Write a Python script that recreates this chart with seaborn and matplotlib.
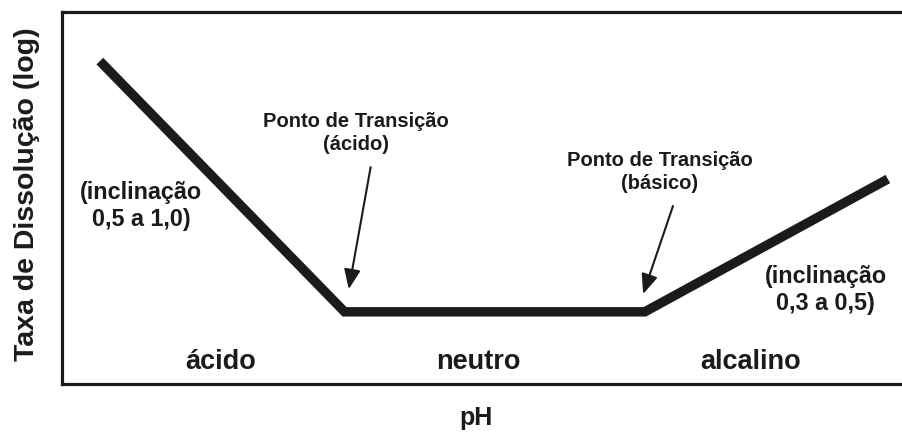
import matplotlib
matplotlib.use("Agg")
import matplotlib.pyplot as plt
import seaborn as sns
import pandas as pd

# ---- data (relative positions on the schematic pH / log-rate axes) ----
ph_pos = [4.5, 33.6, 69.3, 98.2]
log_rate = [86.8, 19.4, 19.4, 55.1]

region_labels = ["ácido", "neutro", "alcalino"]
region_x = [18.9, 49.5, 81.9]

transition_labels = ["Ponto de Transição\n(ácido)", "Ponto de Transição\n(básico)"]
transition_text_xy = [(35.0, 67.7), (71.1, 57.3)]
transition_arrow_from = [(36.7, 58.3), (72.65, 47.85)]
transition_arrow_to = [(34.1, 25.5), (69.1, 24.2)]

slope_labels = ["(inclinação\n0,5 a 1,0)", "(inclinação\n0,3 a 0,5)"]
slope_xy = [(9.4, 48.1), (90.8, 25.5)]

x_label = "pH"
y_label = "Taxa de Dissolução (log)"

sns.set_theme(style="white")
plt.rcParams["font.family"] = ["Liberation Sans", "DejaVu Sans"]
plt.rcParams["font.weight"] = "bold"

ink = "#1c1a1a"

fig = plt.figure(figsize=(9.03, 4.35), dpi=100)
ax = fig.add_axes([62 / 903, 50 / 435, 841 / 903, 372 / 435])

df = pd.DataFrame({"ph": ph_pos, "rate": log_rate})
sns.lineplot(data=df, x="ph", y="rate", sort=False, ax=ax, color=ink,
             linewidth=6.8, solid_joinstyle="miter", solid_capstyle="butt")

ax.set_xlim(0, 100)
ax.set_ylim(0, 100)
ax.set_xticks([])
ax.set_yticks([])

for side in ["left", "top", "bottom"]:
    ax.spines[side].set_visible(True)
    ax.spines[side].set_color(ink)
    ax.spines[side].set_linewidth(2.3)
ax.spines["right"].set_visible(False)

for lab, x in zip(region_labels, region_x):
    ax.text(x, 6.2, lab, ha="center", va="center", fontsize=19.5,
            fontweight="bold", color=ink)

for lab, (tx, ty), (ax0, ay0), (ax1, ay1) in zip(
        transition_labels, transition_text_xy, transition_arrow_from, transition_arrow_to):
    ax.text(tx, ty, lab, ha="center", va="center", fontsize=14.5,
            fontweight="bold", color=ink, linespacing=1.3)
    ax.annotate("", xy=(ax1, ay1), xytext=(ax0, ay0),
                arrowprops=dict(arrowstyle="-|>,head_length=0.6,head_width=0.25",
                                color=ink, lw=1.5,
                                mutation_scale=20, shrinkA=0, shrinkB=0))

for lab, (sx, sy) in zip(slope_labels, slope_xy):
    ax.text(sx, sy, lab, ha="center", va="center", fontsize=16.8,
            fontweight="bold", color=ink, linespacing=1.2)

ax.set_xlabel(x_label, fontsize=18, fontweight="bold", color=ink)
ax.xaxis.set_label_coords((476 - 62) / 841, (385 - 418) / 372)
ax.xaxis.label.set_va("center")
ax.set_ylabel(y_label, fontsize=20.5, fontweight="bold", color=ink)
ax.yaxis.set_label_coords((27 - 62) / 841, (385 - 194) / 372)
ax.yaxis.label.set_va("center")

fig.savefig("out.png", dpi=100)
